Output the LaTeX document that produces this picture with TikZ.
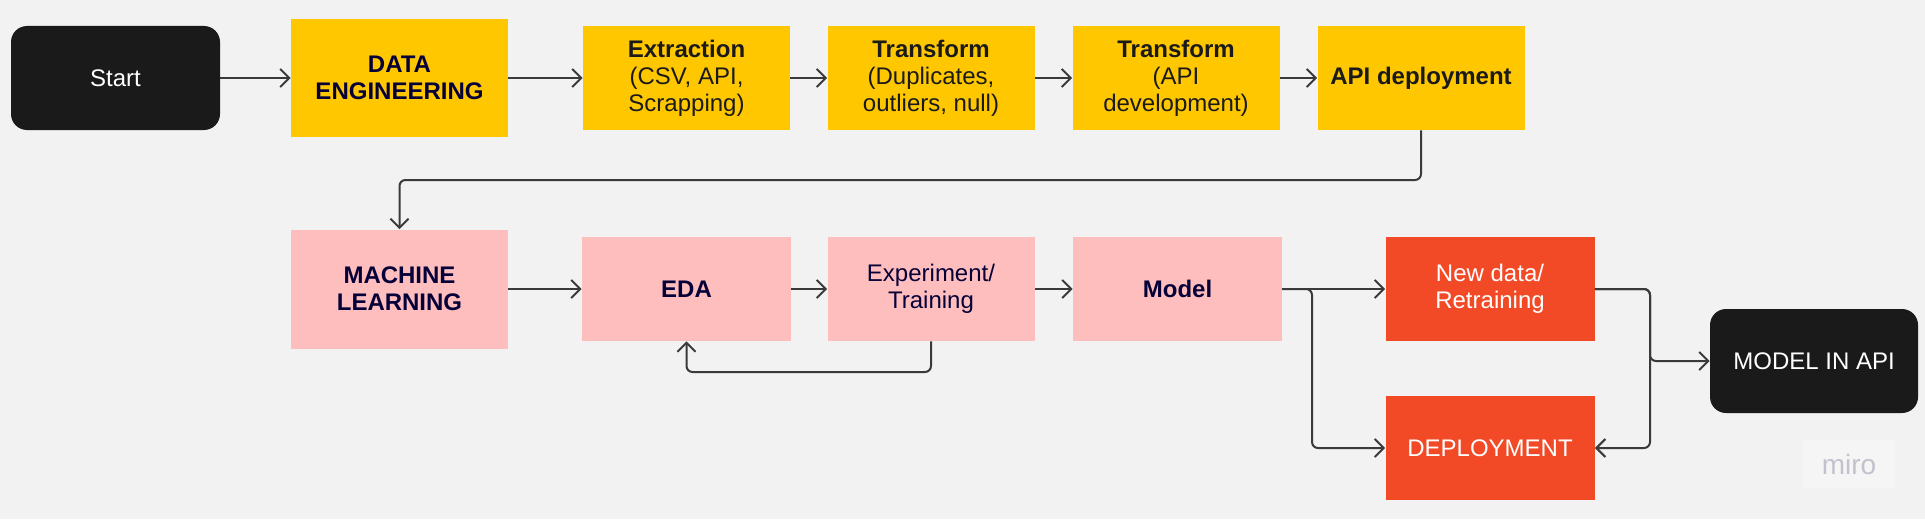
\documentclass[tikz,border=0pt]{standalone}
\usepackage{fontspec}
\setmainfont{Liberation Sans}
\usetikzlibrary{arrows.meta}
\definecolor{bg}{HTML}{F2F2F2}
\definecolor{yel}{HTML}{FFC700}
\definecolor{pnk}{HTML}{FFBEBE}
\definecolor{redo}{HTML}{F24A26}
\definecolor{blk}{HTML}{1A1A1A}
\definecolor{navy}{HTML}{050038}
\definecolor{linec}{HTML}{3A3A3A}
\definecolor{mirotext}{HTML}{C2C2CC}
\definecolor{mirobg}{HTML}{F5F5F5}
\begin{document}
\begin{tikzpicture}[x=0.5pt,y=-0.5pt,
  box/.style={minimum width=103.5pt, minimum height=52pt, inner sep=0pt, align=center,
    font=\fontsize{12pt}{13.5pt}\selectfont},
  ybox/.style={box, fill=yel, text=blk},
  pbox/.style={box, fill=pnk, text=navy},
  rbox/.style={box, fill=redo, text=white},
  kbox/.style={box, fill=blk, text=white, rounded corners=8pt},
  arr/.style={draw=linec, line width=1pt, rounded corners=3pt,
    -{Straight Barb[length=4.5pt,width=9pt]}}
]
\useasboundingbox (0,0) rectangle (1925,519);
\fill[bg] (0,0) rectangle (1925,519);

% row 1
\node[kbox, minimum width=104.5pt] (start) at (115.5,78) {Start};
\node[ybox, minimum width=108.5pt, minimum height=59pt, text=navy] (de) at (399.5,78) {\bfseries DATA\\\bfseries ENGINEERING};
\node[ybox] (ext) at (686.5,78) {\bfseries Extraction\\(CSV, API,\\Scrapping)};
\node[ybox] (tr1) at (931,78) {\bfseries Transform\\(Duplicates,\\outliers, null)};
\node[ybox] (tr2) at (1176,78) {\bfseries Transform\\(API\\development)};
\node[ybox] (api) at (1421,78) {\bfseries API deployment};

% row 2
\node[pbox, minimum width=108.5pt, minimum height=59.5pt] (ml) at (399.5,289) {\bfseries MACHINE\\\bfseries LEARNING};
\node[pbox, minimum width=104.5pt] (eda) at (686.5,289) {\bfseries EDA};
\node[pbox] (exp) at (931,289) {Experiment/\\Training};
\node[pbox, minimum width=104.5pt] (model) at (1177.5,289) {\bfseries Model};
\node[rbox, minimum width=104.5pt] (newd) at (1490,289) {New data/\\Retraining};
\node[rbox, minimum width=104.5pt] (depl) at (1490,448) {DEPLOYMENT};
\node[kbox, minimum width=104pt] (mapi) at (1814,361) {MODEL IN API};

% miro mark
\node[fill=mirobg, minimum width=46pt, minimum height=24pt, inner sep=0pt,
  text=mirotext, font=\fontsize{14pt}{15pt}\selectfont] (miro) at (1849,464) {miro};

% connectors row 1
\draw[arr] (start) -- (de);
\draw[arr] (de) -- (ext);
\draw[arr] (ext) -- (tr1);
\draw[arr] (tr1) -- (tr2);
\draw[arr] (tr2) -- (api);
\draw[arr] (api.south) -- (1421,180) -- (399.5,180) -- (ml.north);

% connectors row 2
\draw[arr] (ml) -- (eda);
\draw[arr] (eda) -- (exp);
\draw[arr] (exp.south) -- (931,372) -- (686.5,372) -- (eda.south);
\draw[arr] (exp) -- (model);
\draw[arr] (model) -- (newd);
\draw[arr] (model.east) -- (1312,289) -- (1312,448) -- (depl.west);
\draw[arr] (newd.east) -- (1650,289) -- (1650,361) -- (mapi.west);
\draw[arr] (newd.east) -- (1650,289) -- (1650,448) -- (depl.east);
\end{tikzpicture}
\end{document}
